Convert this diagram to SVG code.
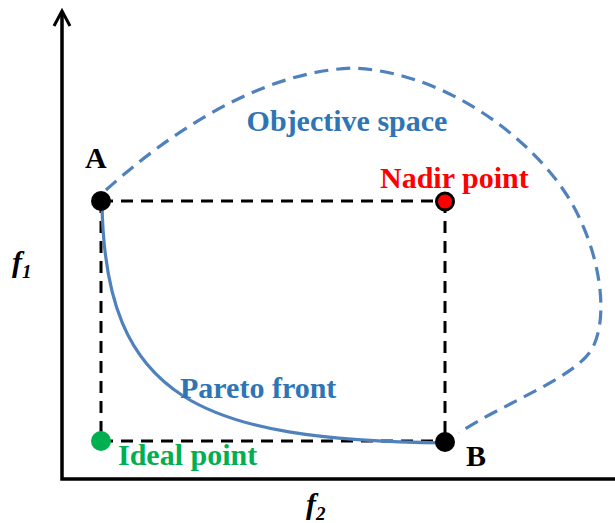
<svg xmlns="http://www.w3.org/2000/svg" width="615" height="523" viewBox="0 0 615 523">
<style>
.lbl{font-family:"Liberation Serif","Times New Roman",serif;font-weight:bold;font-size:30px}
.dash{fill:none;stroke:#000;stroke-width:3;stroke-dasharray:12 8}
.axis{fill:none;stroke:#000;stroke-width:3.5}
</style>
<rect width="615" height="523" fill="#fff"/>
<g id="axes">
<path class="axis" d="M62 12 V479 H615"/>
<path fill="none" stroke="#000" stroke-width="3" stroke-linejoin="miter" d="M54 26 L62 11 L70 26"/>
<text class="lbl" x="12" y="272" font-style="italic" font-size="28">f<tspan font-size="19" dy="6">1</tspan></text>
<text class="lbl" x="306" y="514" font-style="italic" font-size="29">f<tspan font-size="19" dy="6">2</tspan></text>
</g>
<g id="connectors">
<path class="dash" d="M101 201 H445"/>
<path class="dash" d="M101 201 V441"/>
<path class="dash" d="M445 201 V441"/>
<path class="dash" d="M101 441 H445"/>
</g>
<g id="objective-space">
<path fill="none" stroke="#4f81bd" stroke-width="3.2" stroke-dasharray="14 8" d="M106 190 C145 155 245 72 353 68 C440 72 520 130 560 185 C600 240 612 320 590 352 C570 380 500 405 459 433"/>
<text class="lbl" x="347" y="131" text-anchor="middle" fill="#2e75b6">Objective space</text>
</g>
<g id="pareto-front">
<path fill="none" stroke="#4f81bd" stroke-width="3.2" d="M102 203 C105 400 200 440 446 443"/>
<text class="lbl" x="180" y="398" fill="#2e75b6">Pareto front</text>
</g>
<g id="point-A">
<circle cx="101" cy="201" r="10" fill="#000"/>
<text class="lbl" x="85" y="168" font-size="27" fill="#000">A</text>
</g>
<g id="nadir-point">
<circle cx="445" cy="201.5" r="8.5" fill="#ff0000" stroke="#000" stroke-width="3"/>
<text class="lbl" x="380" y="188" fill="#ff0000">Nadir point</text>
</g>
<g id="ideal-point">
<circle cx="101" cy="441" r="10" fill="#00b050"/>
<text class="lbl" x="118" y="465" fill="#00b050">Ideal point</text>
</g>
<g id="point-B">
<circle cx="445" cy="442" r="10" fill="#000"/>
<text class="lbl" x="466" y="466" font-size="27" fill="#000">B</text>
</g>
</svg>
